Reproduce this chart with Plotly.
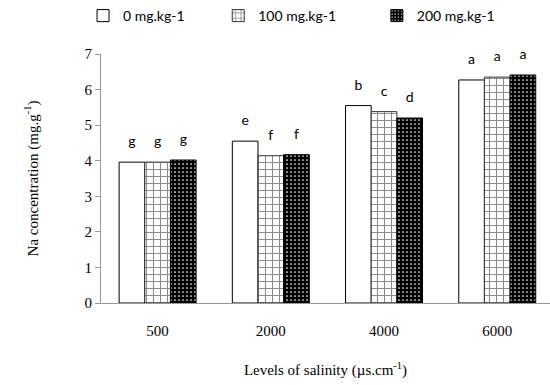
import plotly.graph_objects as go

categories = ["500", "2000", "4000", "6000"]
series_names = ["0 mg.kg-1", "100 mg.kg-1", "200 mg.kg-1"]
vals_0 = [3.96, 4.55, 5.55, 6.27]
vals_100 = [3.96, 4.14, 5.38, 6.35]
vals_200 = [4.02, 4.17, 5.20, 6.41]
letters_0 = ["g", "e", "b", "a"]
letters_100 = ["g", "f", "c", "a"]
letters_200 = ["g", "f", "d", "a"]

serif = "Liberation Serif"
sans = "Lato"
NB = "\u00a0"

fig = go.Figure()
fig.add_trace(go.Bar(
    x=categories, y=vals_0, name=series_names[0] + NB * 8, offsetgroup="a",
    marker=dict(color="white", line=dict(color="black", width=1)),
))
fig.add_trace(go.Bar(
    x=categories, y=vals_100, name=series_names[1] + NB * 10, offsetgroup="b",
    marker=dict(color="white", line=dict(color="#333333", width=1),
                pattern=dict(shape="+", fgcolor="#1a1a1a", bgcolor="white",
                             size=7, solidity=0.28)),
))
fig.add_trace(go.Bar(
    x=categories, y=vals_200, name=series_names[2], offsetgroup="c",
    marker=dict(color="black", line=dict(color="black", width=1),
                pattern=dict(shape=".", fgcolor="white", bgcolor="black",
                             size=4, solidity=0.15, fillmode="replace")),
))
for vals, letters, grp in [(vals_0, letters_0, "a"), (vals_100, letters_100, "b"),
                           (vals_200, letters_200, "c")]:
    fig.add_trace(go.Scatter(
        x=categories, y=vals, text=letters, mode="markers+text", offsetgroup=grp,
        textposition="top center", showlegend=False, hoverinfo="skip",
        marker=dict(size=18, opacity=0),
        textfont=dict(family=sans, size=14, color="black"), cliponaxis=False,
    ))

fig.update_layout(
    width=550, height=385,
    margin=dict(l=101, r=0, t=50, b=82),
    paper_bgcolor="white", plot_bgcolor="white",
    barmode="group", bargap=0.32, bargroupgap=0,
    scattermode="group", scattergap=0.32,
    showlegend=True,
    legend=dict(orientation="h", x=-0.04, xanchor="left", y=1.09, yanchor="bottom",
                font=dict(family=sans, size=14, color="black"),
                itemwidth=30, traceorder="normal"),
    xaxis=dict(range=[-0.5, 3.466], showline=True, linecolor="#999999", linewidth=1,
               ticks="", ticklabelstandoff=14,
               tickfont=dict(family=serif, size=15, color="black"),
               title=dict(text="Levels of salinity (µs.cm<sup>-1</sup>)",
                          font=dict(family=serif, size=15, color="black"), standoff=26),
               showgrid=False, zeroline=False),
    yaxis=dict(range=[0, 7], dtick=1, showline=True, linecolor="#999999", linewidth=1,
               ticks="outside", ticklen=5, tickcolor="#999999",
               tickfont=dict(family=serif, size=15, color="black"),
               title=dict(text="Na concentration (mg.g<sup>-1</sup>)",
                          font=dict(family=serif, size=15, color="black"), standoff=42),
               showgrid=False, zeroline=False),
)

fig.write_html("out.html")
